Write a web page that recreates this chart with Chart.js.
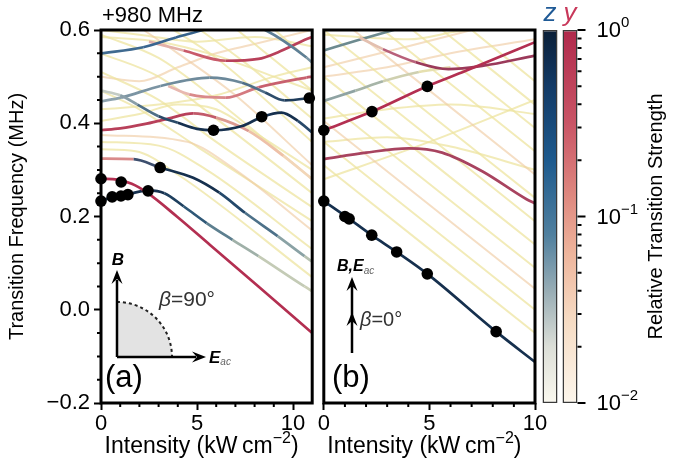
<!DOCTYPE html>
<html>
<head>
<meta charset="utf-8">
<script src="https://cdn.jsdelivr.net/npm/chart.js@4.4.1/dist/chart.umd.min.js"></script>
<style>
  body { margin: 0; background: #fff; }
  #fig { position: relative; width: 684px; height: 474px; overflow: hidden; }
  #fig canvas { position: absolute; top: 0; }
</style>
</head>
<body>
<div id="fig">
  <canvas id="panelA" width="318" height="474" style="left:0"></canvas>
  <canvas id="panelB" width="240" height="474" style="left:318px"></canvas>
  <canvas id="cbar" width="144" height="474" style="left:540px"></canvas>
</div>
<script>
// ---- axes ----
const xTicks = [0, 5, 10];
const yTicks = [-0.2, 0, 0.2, 0.4, 0.6];
const cbLabels = ['z', 'y'];
const cbRange = [0.01, 1];
const cbTicks = [0.01, 0.1, 1];

// ---- panel (a), beta = 90 deg : [intensity, frequency] ----
const aRed     = [[0,0.281],[0.85,0.279],[1.6,0.27],[2.4,0.251],[3.95,0.2],[5.65,0.14],[8.2,0.05],[11,-0.05]];
const aNavyLow = [[0,0.233],[0.6,0.242],[1.4,0.248],[2.5,0.256],[3.3,0.25],[4.3,0.222],[5.5,0.186],[6.85,0.15],[8.2,0.115],[10.6,0.05],[11,0.04]];
const aNavyMid = [[0,0.324],[1.7,0.323],[3.08,0.305],[4.8,0.283],[6.16,0.251],[7.5,0.208],[9.2,0.158],[10.6,0.115],[11,0.103]];
const aNavyUp  = [[0,0.47],[1,0.46],[1.9,0.44],[3,0.415],[4,0.401],[5,0.388],[5.9,0.385],[7.35,0.394],[8.4,0.414],[9.4,0.423],[10.25,0.405],[11,0.38]];
const aRedUp   = [[0,0.385],[1,0.389],[2.25,0.398],[3.5,0.41],[4.8,0.421],[6,0.412],[7.7,0.383],[9.5,0.33],[11,0.28]];
const aGrayUp  = [[0,0.447],[1.05,0.455],[3.1,0.48],[5.65,0.498],[7.35,0.487],[8.55,0.466],[9.55,0.449],[10.85,0.454],[11,0.455]];
const aPinkUp  = [[3.5,0.48],[4.6,0.462],[6.5,0.455],[8.2,0.477],[10.7,0.498],[11,0.5]];
const aBlueTop = [[0,0.55],[2.2,0.563],[3.9,0.584],[5.3,0.6],[6.9,0.622],[8.55,0.6],[10.7,0.541],[11,0.53]];
const aRedTop  = [[2.5,0.575],[4.3,0.556],[6.5,0.534],[8.2,0.538],[9.2,0.552],[10.75,0.581],[11,0.585]];
const aFaint = [
  [[0,0.344],[1.8,0.34],[4,0.29],[11,0.07]],
  [[0,0.36],[3,0.352],[5.5,0.3],[11,0.13]],
  [[0,0.375],[4.5,0.36],[7,0.3],[11,0.17]],
  [[0,0.47],[2,0.43],[5,0.35],[11,0.19]],
  [[0,0.51],[3,0.45],[6,0.36],[11,0.22]],
  [[0,0.55],[3,0.5],[6,0.41],[11,0.25]],
  [[0,0.59],[3,0.54],[6,0.45],[11,0.28]],
  [[1.5,0.62],[4,0.55],[7,0.46],[11,0.31]],
  [[3,0.62],[6,0.54],[11,0.36]],
  [[4.5,0.62],[7.5,0.53],[11,0.41]],
  [[6.5,0.62],[11,0.47]],
  [[8.5,0.62],[11,0.53]],
  [[0,0.5],[2,0.49],[4,0.52],[6,0.55],[8,0.57],[11,0.6]],
  [[0,0.585],[3,0.575],[6,0.545],[9,0.5],[11,0.47]],
  [[0,0.43],[3,0.44],[6,0.46],[9,0.5],[11,0.52]],
  [[0,0.405],[2,0.42],[4,0.44],[6,0.43],[8,0.38],[11,0.3]],
  [[0,0.6],[2,0.59],[5,0.575],[8,0.585],[11,0.565]]
];
const aDotX = [0, 0, 0.58, 1.04, 1.4, 2.45, 1.05, 3.08, 5.86, 8.37, 10.85];
const aDotY = [0.281, 0.233, 0.242, 0.244, 0.247, 0.255, 0.274, 0.305, 0.385, 0.414, 0.454];

// ---- panel (b), beta = 0 deg ----
const bNavy    = [[0,0.233],[1.14,0.197],[2.27,0.16],[3.45,0.124],[4.9,0.077],[8.16,-0.047],[10,-0.112]];
const bRed     = [[0,0.385],[2.28,0.425],[4.87,0.479],[6.7,0.512],[10,0.574]];
const bPurple  = [[1.7,0.584],[2.8,0.559],[4.35,0.531],[5.9,0.516],[7.5,0.523],[10,0.545]];
const bRedLow  = [[0,0.323],[2,0.337],[4.03,0.346],[5.6,0.337],[7.5,0.297],[9.6,0.237],[10,0.228]];
const bGrayTop = [[0,0.556],[1.6,0.578],[3.3,0.6],[4.5,0.615]];
const bGrayMid = [[0,0.448],[1.5,0.47],[2.8,0.49],[4.5,0.51],[6,0.52]];
const bFaint = [
  [[0,0.31],[10,-0.05]],
  [[0,0.36],[10,0.0]],
  [[0,0.405],[10,0.045]],
  [[0,0.45],[10,0.09]],
  [[0,0.5],[10,0.14]],
  [[0,0.55],[10,0.19]],
  [[0,0.6],[10,0.24]],
  [[1.4,0.6],[10,0.29]],
  [[2.8,0.6],[10,0.34]],
  [[4.2,0.6],[10,0.39]],
  [[5.6,0.6],[10,0.44]],
  [[7,0.6],[10,0.49]],
  [[0,0.5],[3,0.52],[6,0.55],[10,0.58]],
  [[0,0.41],[3,0.43],[6,0.44],[10,0.42]],
  [[0,0.36],[3,0.37],[6,0.35],[10,0.3]],
  [[0,0.59],[4,0.58],[7,0.6],[10,0.6]],
  [[0,0.28],[5,0.36],[10,0.45]],
  [[0,0.52],[4,0.565],[7,0.6]]
];
const bDotX = [0, 2.28, 4.9, 0, 1.0, 1.2, 2.27, 3.45, 4.9, 8.16];
const bDotY = [0.385, 0.425, 0.479, 0.233, 0.2, 0.195, 0.16, 0.124, 0.077, -0.047];

// ---- styles ----
const FONT = "'Liberation Sans', Arial, sans-serif";
const NAVY = '#16304e', RED = '#b32f51';
const FAINT = 'rgba(238,228,160,0.75)';
const FAINT2 = 'rgba(240,205,165,0.65)';
const aStyle = [
  [aRed, RED],
  [aNavyLow, [NAVY,NAVY,NAVY,NAVY,'#1e3f5e','#2f5877','#5d7f8f','#9fb0a8','#c4cbb6','#ccd0b8']],
  [aNavyMid, ['#d98a8a','#3d4f6e',NAVY,NAVY,'#24486a','#4d7189','#8aa2a5','#b7c2b2']],
  [aNavyUp, ['#c4ccc4','#8a9fa8','#4f6f86','#2a4a68',NAVY,NAVY,NAVY,NAVY,NAVY,NAVY,'#28496a']],
  [aRedUp, ['#b8405a','#b8405a','#b8405a','#b8405a','#c25a6a','#dc9a90','#eec0a8','#f2d6b8']],
  [aGrayUp, ['#8da2ad','#7b94a3','#6f8b9c','#6b889a','#4f6f88','#2d4d6b','#1e3b5a','#1a3656']],
  [aPinkUp, ['#e8b8b0','#d98a8a','#d47a80','#c8606e','#c05a6a']],
  [aBlueTop, ['#3f6a90','#3a6690','#36628c','#36628c','#4b6f8c','#5e7f95','#7b97a8']],
  [aRedTop, ['#e3b0a8','#c85a6a','#b8405a','#b8405a','#b8405a','#b8405a']]
];
const bStyle = [
  [bNavy, NAVY],
  [bRed, RED],
  [bPurple, ['#e3c0b0','#b8607a','#9b3a5a','#9b3a5a','#9b3a5a']],
  [bRedLow, '#a8435f'],
  [bGrayTop, '#6d8a8f'],
  [bGrayMid, ['#8fa3a3','#a7b5a8','#cfd0b0','#e6e0b0']]
];

function curve(data, color, width, order) {
  const multi = Array.isArray(color);
  const ds = {
    type: 'line', data, borderColor: multi ? color[0] : color, borderWidth: width,
    pointRadius: 0, cubicInterpolationMode: 'monotone', order
  };
  if (multi) ds.segment = { borderColor: c => color[c.p0DataIndex] };
  return ds;
}

function dots(xs, ys) {
  return {
    type: 'line', showLine: false, order: 0, clip: false,
    data: xs.map((x, i) => ({ x, y: ys[i] })),
    pointRadius: 5.8, pointBackgroundColor: '#000', pointBorderWidth: 0
  };
}

function panelData(style, faint, dx, dy) {
  const sets = [dots(dx, dy)];
  style.forEach(s => sets.push(curve(s[0], s[1], 2.7, 1)));
  faint.forEach((f, i) => sets.push(curve(f, i % 5 === 2 ? FAINT2 : FAINT, 2, 2)));
  return { datasets: sets };
}

function drawRich(ctx, parts, x, y, align) {
  let w = 0;
  parts.forEach(p => { ctx.font = p[1]; w += ctx.measureText(p[0]).width; });
  let cx = align === 'center' ? x - w / 2 : align === 'right' ? x - w : x;
  ctx.textAlign = 'left';
  ctx.textBaseline = 'middle';
  parts.forEach(p => {
    ctx.font = p[1];
    ctx.fillStyle = p[3] || '#000';
    ctx.fillText(p[0], cx, y + (p[2] || 0));
    cx += ctx.measureText(p[0]).width;
  });
}

function head(ctx, x, y, ang) {
  const L = 14, W = 5.5, c = Math.cos(ang), s = Math.sin(ang);
  ctx.beginPath();
  ctx.moveTo(x, y);
  ctx.lineTo(x - L * c + W * s, y - L * s - W * c);
  ctx.lineTo(x - L * 0.65 * c, y - L * 0.65 * s);
  ctx.lineTo(x - L * c - W * s, y - L * s + W * c);
  ctx.closePath();
  ctx.fill();
}

const framePlugin = {
  id: 'frame',
  afterDraw(chart) {
    const { ctx, chartArea: a, scales: { x, y } } = chart;
    ctx.save();
    ctx.strokeStyle = '#000';
    ctx.lineWidth = 2;
    ctx.beginPath();
    for (let v = 1; v < x.max; v++) {
      if (v % 5 === 0) continue;
      const px = x.getPixelForValue(v);
      ctx.moveTo(px, a.bottom); ctx.lineTo(px, a.bottom + 4);
    }
    if (y.options.display) {
      for (let i = -3; i < 12; i++) {
        if (i % 4 === 0) continue;
        const py = y.getPixelForValue(i * 0.05);
        ctx.moveTo(a.left, py); ctx.lineTo(a.left - 4, py);
      }
    }
    ctx.stroke();
    ctx.lineWidth = 3;
    ctx.strokeRect(a.left, a.top, a.right - a.left, a.bottom - a.top);
    drawRich(ctx, [['Intensity (kW\u2009cm', '23px ' + FONT], ['\u22122', '16px ' + FONT, -8], [')', '23px ' + FONT]],
      (a.left + a.right) / 2 - 5, 447, 'center');
    ctx.restore();
  }
};

const annA = {
  id: 'annA',
  afterDraw(chart) {
    const ctx = chart.ctx, ox = 117, oy = 357, r = 55;
    ctx.save();
    ctx.fillStyle = '#e3e3e3';
    ctx.beginPath();
    ctx.moveTo(ox, oy); ctx.lineTo(ox, oy - r);
    ctx.arc(ox, oy, r, -Math.PI / 2, 0, false);
    ctx.closePath(); ctx.fill();
    ctx.strokeStyle = '#222'; ctx.lineWidth = 2; ctx.setLineDash([3, 3]);
    ctx.beginPath(); ctx.arc(ox, oy, r, -Math.PI / 2, 0, false); ctx.stroke();
    ctx.setLineDash([]);
    ctx.strokeStyle = '#000'; ctx.fillStyle = '#000'; ctx.lineWidth = 2.5;
    ctx.beginPath(); ctx.moveTo(ox, oy); ctx.lineTo(ox, 280); ctx.moveTo(ox, oy); ctx.lineTo(196, oy); ctx.stroke();
    head(ctx, ox, 270, -Math.PI / 2);
    head(ctx, 206, oy, 0);
    drawRich(ctx, [['B', 'italic bold 17px ' + FONT]], ox + 1, 260, 'center');
    drawRich(ctx, [['\u03b2', 'italic 21px ' + FONT, 0, '#333'], ['=90\u00b0', '21px ' + FONT, 0, '#333']], 159, 300, 'left');
    drawRich(ctx, [['E', 'italic bold 17px ' + FONT], ['ac', 'italic 10px ' + FONT, 4, '#666']], 209, 358, 'left');
    drawRich(ctx, [['(a)', '31px ' + FONT]], 105, 378, 'left');
    drawRich(ctx, [['+980 MHz', '22px ' + FONT]], 102, 16, 'left');
    ctx.restore();
  }
};

const annB = {
  id: 'annB',
  afterDraw(chart) {
    const ctx = chart.ctx, ox = 34;
    ctx.save();
    ctx.strokeStyle = '#000'; ctx.fillStyle = '#000'; ctx.lineWidth = 2.5;
    ctx.beginPath(); ctx.moveTo(ox, 353); ctx.lineTo(ox, 286); ctx.stroke();
    head(ctx, ox, 277, -Math.PI / 2);
    head(ctx, ox, 312, -Math.PI / 2);
    drawRich(ctx, [['B,E', 'italic bold 16px ' + FONT], ['ac', 'italic 10px ' + FONT, 4, '#666']], 19, 267, 'left');
    drawRich(ctx, [['\u03b2', 'italic 20px ' + FONT, 0, '#333'], ['=0\u00b0', '20px ' + FONT, 0, '#333']], 42, 320, 'left');
    drawRich(ctx, [['(b)', '31px ' + FONT]], 14, 378, 'left');
    ctx.restore();
  }
};

function panelOptions(xMax, showY) {
  return {
    responsive: false,
    animation: false,
    layout: { padding: showY ? { top: 30, right: 2, left: 0, bottom: 0 } : { top: 30, right: 23, left: 4, bottom: 0 } },
    plugins: { legend: { display: false }, tooltip: { enabled: false } },
    scales: {
      x: {
        type: 'linear', min: 0, max: xMax,
        afterBuildTicks: s => { s.ticks = xTicks.map(v => ({ value: v })); },
        ticks: { font: { family: FONT, size: 22 }, color: '#000', padding: 1, maxRotation: 0 },
        grid: { drawOnChartArea: false, tickLength: 7, tickWidth: 2, color: '#000' },
        border: { display: false },
        afterFit: s => { s.height = 71; s.paddingLeft = 0; s.paddingRight = 0; }
      },
      y: {
        type: 'linear', min: -0.2, max: 0.6, display: showY,
        afterBuildTicks: s => { s.ticks = yTicks.map(v => ({ value: v })); },
        ticks: {
          font: { family: FONT, size: 22 }, color: '#000', padding: 4,
          callback: v => (v < 0 ? '\u2212' : '') + Math.abs(v).toFixed(1)
        },
        grid: { drawOnChartArea: false, tickLength: 7, tickWidth: 2, color: '#000' },
        border: { display: false },
        title: { display: true, text: 'Transition Frequency (MHz)', font: { family: FONT, size: 20 }, color: '#000', padding: { top: 5, bottom: 4 } },
        afterFit: s => { s.width = showY ? 101 : 0; s.paddingTop = 0; s.paddingBottom = 0; }
      }
    }
  };
}

new Chart(document.getElementById('panelA'), {
  type: 'line',
  data: panelData(aStyle, aFaint, aDotX, aDotY),
  options: panelOptions(11, true),
  plugins: [framePlugin, annA]
});

new Chart(document.getElementById('panelB'), {
  type: 'line',
  data: panelData(bStyle, bFaint, bDotX, bDotY),
  options: panelOptions(10, false),
  plugins: [framePlugin, annB]
});

// ---- colour bars ----
const cbStops = {
  z: [[0, '#0b1f38'], [0.15, '#123a66'], [0.35, '#1d5a8e'], [0.55, '#50809f'], [0.7, '#98adb5'], [0.85, '#dcdfd8'], [1, '#faf8ef']],
  y: [[0, '#b02a4c'], [0.25, '#c95566'], [0.45, '#df8a80'], [0.6, '#eeb59c'], [0.78, '#f6dcc4'], [1, '#fcf6ec']]
};
const cbLabelColors = ['#1f5a96', '#c8385a'];

const cbPlugin = {
  id: 'cbTicks',
  afterDraw(chart) {
    const { ctx, chartArea: a, scales: { y } } = chart;
    const x0 = a.right - 2.5;
    ctx.save();
    ctx.strokeStyle = '#000'; ctx.lineWidth = 2;
    ctx.beginPath();
    [0.01, 0.1].forEach(d => {
      for (let m = 2; m < 10; m++) {
        const py = y.getPixelForValue(m * d);
        ctx.moveTo(x0, py); ctx.lineTo(x0 + 4, py);
      }
    });
    cbTicks.forEach(v => {
      const py = y.getPixelForValue(v);
      ctx.moveTo(x0, py); ctx.lineTo(x0 + 8, py);
    });
    ctx.stroke();
    cbTicks.forEach(v => {
      const e = Math.round(Math.log10(v));
      const py = y.getPixelForValue(v);
      drawRich(ctx, [['10', '22px ' + FONT], [(e < 0 ? '\u2212' : '') + Math.abs(e), '15px ' + FONT, -8]], x0 + 19, py + 1, 'left');
    });
    ctx.translate(116, (a.top + a.bottom) / 2);
    ctx.rotate(-Math.PI / 2);
    drawRich(ctx, [['Relative Transition Strength', '20px ' + FONT]], 0, 0, 'center');
    ctx.restore();
  }
};

new Chart(document.getElementById('cbar'), {
  type: 'bar',
  data: {
    labels: cbLabels,
    datasets: [{
      data: cbLabels.map(() => cbRange),
      backgroundColor: c => {
        const a = c.chart.chartArea;
        if (!a) return '#ccc';
        const g = c.chart.ctx.createLinearGradient(0, a.top, 0, a.bottom);
        cbStops[cbLabels[c.dataIndex]].forEach(s => g.addColorStop(s[0], s[1]));
        return g;
      },
      borderColor: '#3a3a3a', borderWidth: 1.5, borderSkipped: false,
      barPercentage: 0.75, categoryPercentage: 1
    }]
  },
  options: {
    responsive: false,
    animation: false,
    layout: { padding: { top: 0, bottom: 71, left: 0, right: 0 } },
    plugins: { legend: { display: false }, tooltip: { enabled: false } },
    scales: {
      x: {
        position: 'top',
        grid: { display: false }, border: { display: false },
        ticks: { font: { family: FONT, size: 26, style: 'italic' }, color: c => cbLabelColors[c.index], padding: -7 },
        afterFit: s => { s.height = 30; }
      },
      y: {
        type: 'logarithmic', position: 'right', min: 0.01, max: 1,
        grid: { display: false }, border: { display: false },
        ticks: { display: false },
        afterFit: s => { s.width = 104; }
      }
    }
  },
  plugins: [cbPlugin]
});
</script>
</body>
</html>
